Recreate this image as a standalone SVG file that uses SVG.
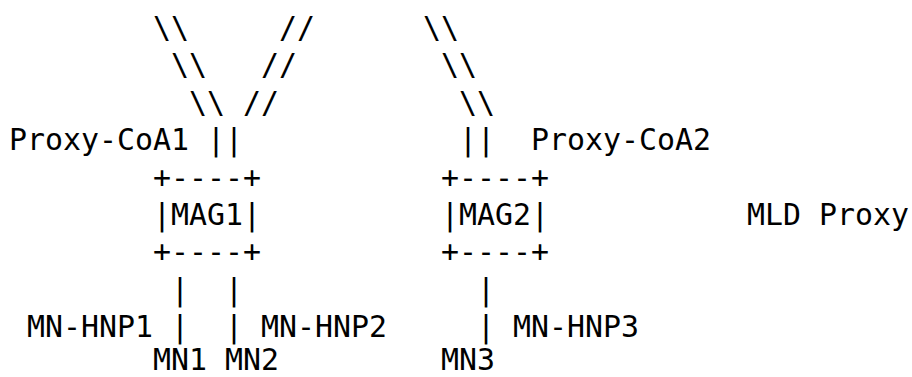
<svg xmlns="http://www.w3.org/2000/svg" width="912" height="377" viewBox="0 0 912 377">
<style>
.t{font-family:"DejaVu Sans Mono",monospace;font-size:29.9px;fill:#000;white-space:pre}
</style>
<rect width="912" height="377" fill="#fff"/>
<g id="connectors" class="t">
<text x="153" y="38">\\</text>
<text x="279" y="38">//</text>
<text x="423" y="38">\\</text>
<text x="171" y="75.4">\\</text>
<text x="261" y="75.4">//</text>
<text x="441" y="75.4">\\</text>
<text x="189" y="112.8">\\</text>
<text x="243" y="112.8">//</text>
<text x="459" y="112.8">\\</text>
<text x="207" y="150.2">||</text>
<text x="459" y="150.2">||</text>
<text x="171" y="299.8">|</text>
<text x="225" y="299.8">|</text>
<text x="477" y="299.8">|</text>
<text x="171" y="337.2">|</text>
<text x="225" y="337.2">|</text>
<text x="477" y="337.2">|</text>
</g>
<g id="MAG1" class="t">
<text x="153" y="187.6">+----+</text>
<text x="153" y="225">|MAG1|</text>
<text x="153" y="262.4">+----+</text>
</g>
<g id="MAG2" class="t">
<text x="441" y="187.6">+----+</text>
<text x="441" y="225">|MAG2|</text>
<text x="441" y="262.4">+----+</text>
</g>
<g id="proxy-coa1" class="t"><text x="9" y="150.2">Proxy-CoA1</text></g>
<g id="proxy-coa2" class="t"><text x="531" y="150.2">Proxy-CoA2</text></g>
<g id="mld-proxy" class="t"><text x="747" y="225">MLD Proxy</text></g>
<g id="mn-hnp1" class="t"><text x="27" y="337.2">MN-HNP1</text></g>
<g id="mn-hnp2" class="t"><text x="261" y="337.2">MN-HNP2</text></g>
<g id="mn-hnp3" class="t"><text x="513" y="337.2">MN-HNP3</text></g>
<g id="MN1" class="t"><text x="153" y="370">MN1</text></g>
<g id="MN2" class="t"><text x="225" y="370">MN2</text></g>
<g id="MN3" class="t"><text x="441" y="370">MN3</text></g>
</svg>
